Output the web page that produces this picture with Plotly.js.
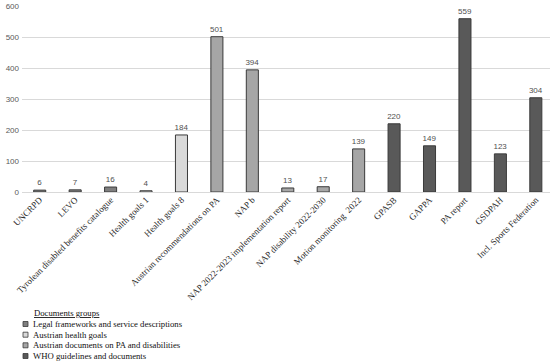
<!DOCTYPE html>
<html>
<head>
<meta charset="utf-8">
<script src="https://cdn.plot.ly/plotly-3.0.1.min.js"></script>
<style>html,body{margin:0;padding:0;background:#fff;}#chart{width:550px;height:363px;}</style>
</head>
<body>
<div id="chart"></div>
<script>
const categories = ["UNCRPD", "LEVO", "Tyrolean disabled benefits catalogue", "Health goals 1", "Health goals 8",
  "Austrian recommendations on PA", "NAP b", "NAP 2022-2023 implementation report", "NAP disability 2022-2030",
  "Motion monitoring  2022", "GPASB", "GAPPA", "PA report", "GSDPAH", "Incl. Sports Federation"];
const values = [6, 7, 16, 4, 184, 501, 394, 13, 17, 139, 220, 149, 559, 123, 304];
const groupOf = [0, 0, 0, 1, 1, 2, 2, 2, 2, 2, 3, 3, 3, 3, 3];
const groupNames = ["Legal frameworks and service descriptions", "Austrian health goals",
  "Austrian documents on PA and disabilities", "WHO guidelines and documents"];
const groupColors = ["#7f7f7f", "#d9d9d9", "#a6a6a6", "#595959"];
const yTicks = [0, 100, 200, 300, 400, 500, 600];

const W = 550, H = 363, ML = 22, MR = 0, MT = 6, MB = 171;
const PW = W - ML - MR, PH = H - MT - MB;
const px = x => (x - ML) / PW;
const py = y => (H - MB - y) / PH;

const traces = groupNames.map((name, g) => {
  const xs = [], ys = [];
  categories.forEach((c, i) => { if (groupOf[i] === g) { xs.push(c); ys.push(values[i]); } });
  return {
    type: "bar", name: name, x: xs, y: ys,
    marker: { color: groupColors[g], line: { color: "#3a3a3a", width: 1 } },
    text: ys.map(String), textposition: "outside", cliponaxis: false, constraintext: "none",
    textfont: { family: "Liberation Sans, Arial, sans-serif", size: 8, color: "#505050" },
    showlegend: false, hoverinfo: "x+y"
  };
});

const serif = "Liberation Serif, Times New Roman, serif";
const annotations = [];
const shapes = [];
annotations.push({ xref: "paper", yref: "paper", x: px(32), y: py(313), xanchor: "left", yanchor: "middle",
  text: "<u>Documents groups</u>", showarrow: false,
  font: { family: serif, size: 8.7, color: "#111" } });
const rowY = [324, 334.7, 345.3, 356];
groupNames.forEach((n, g) => {
  annotations.push({ xref: "paper", yref: "paper", x: px(31), y: py(rowY[g]), xanchor: "left", yanchor: "middle",
    text: n, showarrow: false, font: { family: serif, size: 8.7, color: "#111" } });
  shapes.push({ type: "rect", xref: "paper", yref: "paper", x0: px(23), x1: px(28), y0: py(rowY[g] + 2.5), y1: py(rowY[g] - 2.5),
    fillcolor: groupColors[g], line: { color: "#3a3a3a", width: 0.8 } });
});

const layout = {
  width: W, height: H,
  margin: { l: ML, r: MR, t: MT, b: MB, pad: 0 },
  paper_bgcolor: "#fff", plot_bgcolor: "#fff",
  barmode: "overlay", bargap: 0.66,
  showlegend: false,
  xaxis: {
    type: "category", categoryorder: "array", categoryarray: categories,
    range: [-0.5, 14.4], tickangle: -45, ticks: "", showgrid: false, showline: false, zeroline: false,
    tickfont: { family: serif, size: 9, color: "#2a2a2a" },
    automargin: false
  },
  yaxis: {
    range: [0, 600], tickvals: yTicks, ticktext: yTicks.map(String), showgrid: true, gridcolor: "#d9d9d9", gridwidth: 1,
    zeroline: true, zerolinecolor: "#d9d9d9", zerolinewidth: 1, showline: false, ticks: "",
    tickfont: { family: "Liberation Sans, Arial, sans-serif", size: 8, color: "#595959" },
    automargin: false, ticklabelstandoff: 2
  },
  annotations: annotations, shapes: shapes
};

Plotly.newPlot("chart", traces, layout, { displayModeBar: false, staticPlot: true });
</script>
</body>
</html>
